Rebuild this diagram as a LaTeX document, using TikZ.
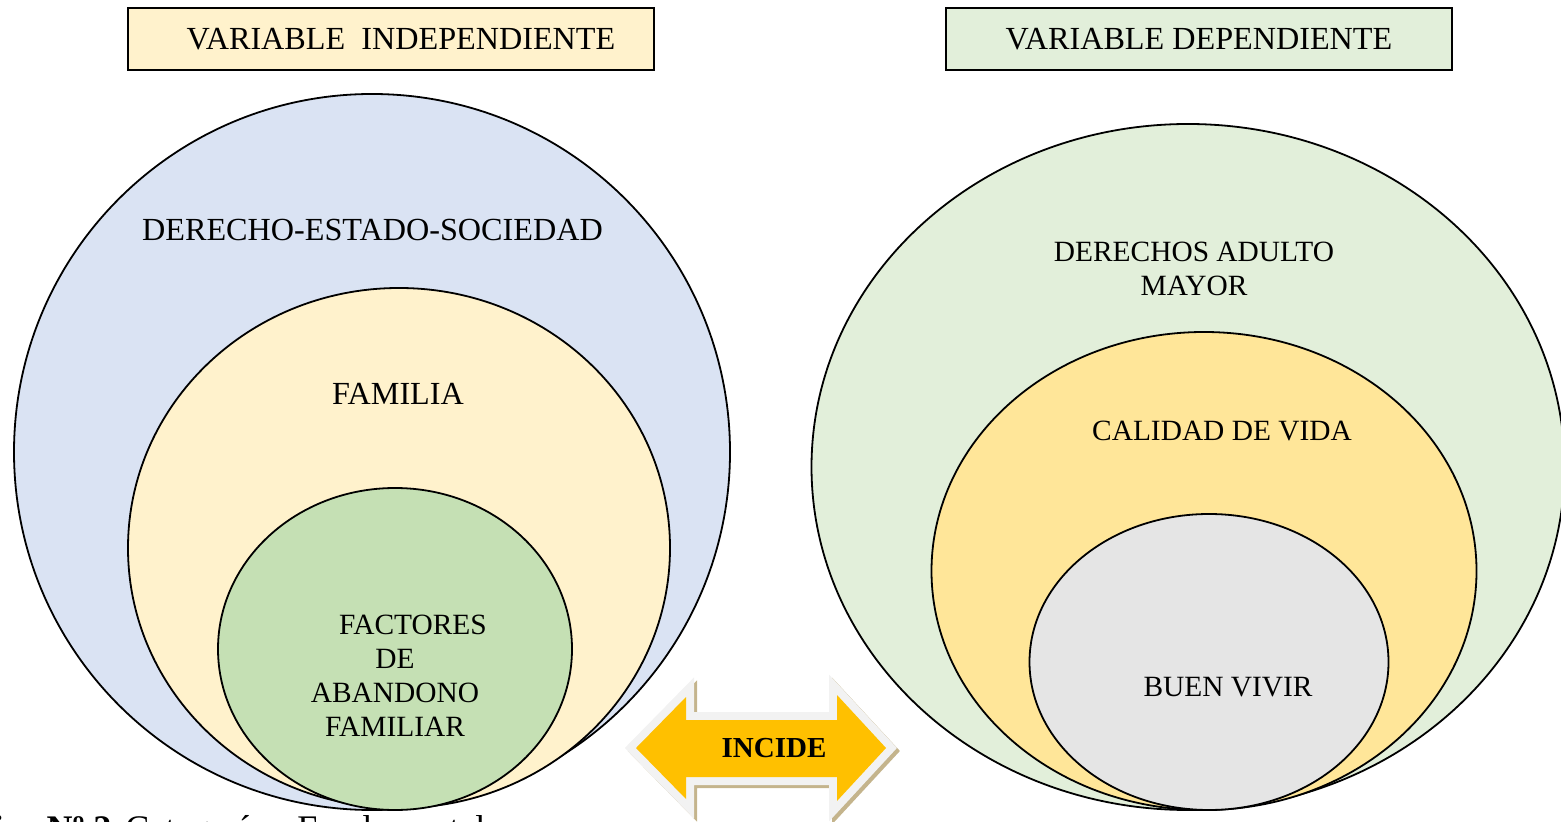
\documentclass[tikz,border=0pt]{standalone}
\usepackage{fontspec}
\setmainfont{Liberation Serif}
\usepackage{xcolor}
\usepackage{tikz}
\usetikzlibrary{shapes,arrows}

\definecolor{azulclaro}{HTML}{DAE3F3}
\definecolor{crema}{HTML}{FFF2CC}
\definecolor{verdeclaro}{HTML}{E2EFDA}
\definecolor{verde}{HTML}{C5E0B4}
\definecolor{amarillo}{HTML}{FFE699}
\definecolor{gris}{HTML}{E5E5E5}
\definecolor{naranja}{HTML}{FFC000}
\definecolor{borde}{HTML}{F2F2F2}
\definecolor{sombra}{HTML}{C4B48C}

\begin{document}
\begin{tikzpicture}[x=1pt, y=-1pt, font=\fontsize{16.1}{17}\selectfont]
		% Define the styles
		\tikzstyle{titulo}=[rectangle, draw=black, line width=1pt, minimum height=31pt, inner sep=0pt, text centered]
		\tikzstyle{nivel}=[ellipse, draw=black, line width=0.9pt, inner sep=0pt]
		\tikzstyle{etiqueta}=[align=center, inner sep=0pt]
		\tikzstyle{chica}=[etiqueta, font=\fontsize{14.7}{17}\selectfont]

		\clip (0,0) rectangle (780.5,411);

		% Define title nodes
		\node (vi) [titulo, fill=crema, minimum width=263pt] at (195.5,19.5) {\hspace*{10pt}VARIABLE\ \ INDEPENDIENTE};
		\node (vd) [titulo, fill=verdeclaro, minimum width=253pt] at (599.5,19.5) {VARIABLE DEPENDIENTE};

		% Define the circles of the independent variable
		\node (sociedad) [nivel, fill=azulclaro, minimum width=358pt, minimum height=358pt] at (186,226) {};
		\node (familia) [nivel, fill=crema, minimum width=271pt, minimum height=260pt] at (199.5,274) {};
		\node (abandono) [nivel, fill=verde, minimum width=177pt, minimum height=161pt] at (197.5,324.5) {};

		% Define the circles of the dependent variable
		\node (derechos) [nivel, fill=verdeclaro, minimum width=376.5pt, minimum height=343pt] at (594,233.5) {};
		\node (calidad) [nivel, fill=amarillo, minimum width=272.5pt, minimum height=239pt] at (602,285.5) {};
		\node (vivir) [nivel, fill=gris, minimum width=179.5pt, minimum height=148pt] at (604.5,331) {};

		% Define labels
		\node (tsociedad) [etiqueta] at (186.25,115) {DERECHO-ESTADO-SOCIEDAD};
		\node (tfamilia) [etiqueta] at (199,197) {FAMILIA};
		\node (tabandono) [chica] at (197.5,338) {\hspace*{18pt}FACTORES\\DE\\ABANDONO\\FAMILIAR};
		\node (tderechos) [chica] at (597,134.5) {DERECHOS ADULTO\\MAYOR};
		\node (tcalidad) [chica] at (611,215.5) {CALIDAD DE VIDA};
		\node (tvivir) [chica] at (614,343.5) {BUEN VIVIR};

		% Define the double arrow
		\draw[sombra, fill=sombra, line width=8pt, line join=miter, shift={(1.5,1.5)}]
			(318,374) -- (343,348.5) -- (343,360) -- (418.5,360) -- (418.5,347.5) -- (443,374)
			-- (418.5,400.5) -- (418.5,388.5) -- (343,388.5) -- (343,399.5) -- cycle;
		\draw[borde, fill=naranja, line width=8pt, line join=miter]
			(318,374) -- (343,348.5) -- (343,360) -- (418.5,360) -- (418.5,347.5) -- (443,374)
			-- (418.5,400.5) -- (418.5,388.5) -- (343,388.5) -- (343,399.5) -- cycle;
		\fill[naranja]
			(318,374) -- (343,348.5) -- (343,360) -- (418.5,360) -- (418.5,347.5) -- (443,374)
			-- (418.5,400.5) -- (418.5,388.5) -- (343,388.5) -- (343,399.5) -- cycle;
		\node (incide) [etiqueta, font=\fontsize{14.5}{16}\selectfont\bfseries] at (387,374) {INCIDE};

		% Define caption
		\node (pie) [anchor=base west, inner sep=0pt, font=\fontsize{18}{20}\selectfont] at (62.5,420.4) {\llap{\textbf{Gráfico Nº 2:}\hspace{1pt}}Categorías\ \ Fundamentales};
	\end{tikzpicture}
\end{document}
